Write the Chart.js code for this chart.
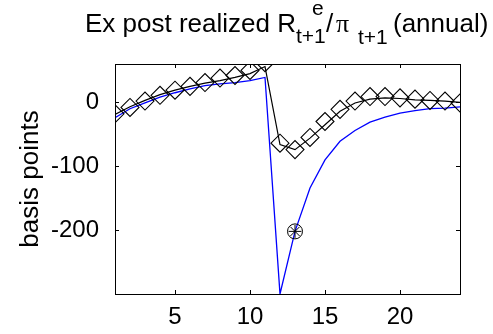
<!DOCTYPE html>
<html>
<head>
<meta charset="utf-8">
<script src="https://cdn.jsdelivr.net/npm/chart.js@4.4.0/dist/chart.umd.min.js"></script>
<style>
  html, body { margin: 0; padding: 0; background: #fff; }
</style>
</head>
<body>
<canvas id="myChart" width="493" height="334"></canvas>
<script>
// quarters after the shock
const periods = [1, 2, 3, 4, 5, 6, 7, 8, 9, 10, 11, 12, 13, 14, 15, 16, 17, 18, 19, 20, 21, 22, 23, 24];
// blue model path
const modelPath = [-24, -10, -1, 8, 15, 21, 26, 29, 31, 34, 39, -300, -202, -134, -90, -61, -44, -31, -23, -17, -13, -10, -9, -7];
// black smooth path
const smoothPath = [-19, -7, 3, 12, 19, 25, 30, 34, 39, 45, 56, -66, -74, -56, -35, -14, -1, 5, 7, 6, 4, 3, 2, 0];
// diamonds
const diamondPath = [-18, -8, 2, 11, 19, 25, 31, 38, 42, 50, 62, -64, -74, -55, -30, -11, 2, 9, 9, 7, 5, 3, 2, -1];
// single highlighted point
const markX = [13];
const markY = [-202];

const xTicks = [5, 10, 15, 20];
const yTicks = [-200, -100, 0];

const FONT = '"Liberation Sans", Arial, Helvetica, sans-serif';

const toXY = (xs, ys) => xs.map((x, i) => ({ x: x, y: ys[i] }));

// MATLAB-ish frame, inward ticks and the TeX title
const framePlugin = {
  id: "frame",
  afterDraw(chart) {
    const ctx = chart.ctx;
    const a = chart.chartArea;
    const xs = chart.scales.x;
    const ys = chart.scales.y;
    ctx.save();
    ctx.strokeStyle = "#000";
    ctx.lineWidth = 1;
    ctx.strokeRect(Math.round(a.left) + 0.5, Math.round(a.top) + 0.5,
      Math.round(a.right - a.left), Math.round(a.bottom - a.top));
    const tl = 4;
    ctx.beginPath();
    xTicks.forEach((v) => {
      const px = Math.round(xs.getPixelForValue(v)) + 0.5;
      ctx.moveTo(px, a.bottom); ctx.lineTo(px, a.bottom - tl);
      ctx.moveTo(px, a.top); ctx.lineTo(px, a.top + tl);
    });
    yTicks.forEach((v) => {
      const py = Math.round(ys.getPixelForValue(v)) + 0.5;
      ctx.moveTo(a.left, py); ctx.lineTo(a.left + tl, py);
      ctx.moveTo(a.right, py); ctx.lineTo(a.right - tl, py);
    });
    ctx.stroke();

    // title pieces
    ctx.fillStyle = "#000";
    ctx.textAlign = "left";
    ctx.textBaseline = "alphabetic";
    const big = "26px " + FONT;
    const small = "21px " + FONT;
    const pieces = [
      ["Ex post realized R", 85, 32, big],
      ["t+1", 296, 43, small],
      ["e", 312, 15, small],
      ["/", 326, 32, big],
      ["\u03c0", 336, 32, '26px "Liberation Serif", serif'],
      ["t+1", 358, 44, small],
      ["(annual)", 393, 32, big],
    ];
    pieces.forEach(([t, x, y, f]) => {
      ctx.font = f;
      ctx.fillText(t, x, y);
    });
    ctx.restore();
  },
};

const config = {
  type: "line",
  data: {
    datasets: [
      {
        data: toXY(periods, diamondPath),
        showLine: false,
        pointStyle: "rectRot",
        pointRadius: 9,
        pointBorderWidth: 1.1,
        pointBorderColor: "#000",
        pointBackgroundColor: "rgba(0,0,0,0)",
      },
      {
        data: toXY(markX, markY),
        showLine: false,
        pointStyle: "circle",
        pointRadius: 7.5,
        pointBorderWidth: 1,
        pointBorderColor: "#000",
        pointBackgroundColor: "rgba(0,0,0,0)",
      },
      {
        data: toXY(markX, markY),
        showLine: false,
        pointStyle: "star",
        pointRadius: 6.5,
        pointBorderWidth: 1,
        pointBorderColor: "#000",
      },
      {
        data: toXY(periods, smoothPath),
        borderColor: "#000",
        borderWidth: 1.2,
        pointRadius: 0,
        tension: 0,
      },
      {
        data: toXY(periods, modelPath),
        borderColor: "#0000ff",
        borderWidth: 1.3,
        pointRadius: 0,
        tension: 0,
      },
    ],
  },
  options: {
    responsive: false,
    animation: false,
    devicePixelRatio: 1,
    layout: { padding: { top: 64, right: 33, left: 0, bottom: 0 } },
    plugins: {
      legend: false,
      tooltip: { enabled: false },
      title: { display: false },
    },
    scales: {
      x: {
        type: "linear",
        min: 1,
        max: 24,
        grid: { display: false },
        border: { display: false },
        afterBuildTicks: (s) => { s.ticks = xTicks.map((v) => ({ value: v })); },
        afterFit: (s) => { s.height = 40; },
        ticks: {
          color: "#000",
          font: { family: FONT, size: 24 },
          padding: 1,
          maxRotation: 0,
          autoSkip: false,
        },
      },
      y: {
        min: -300,
        max: 60,
        grid: { display: false },
        border: { display: false },
        afterBuildTicks: (s) => { s.ticks = yTicks.map((v) => ({ value: v })); },
        afterFit: (s) => { s.width = 115; },
        ticks: {
          color: "#000",
          font: { family: FONT, size: 24 },
          padding: 8,
          autoSkip: false,
        },
        title: {
          display: true,
          text: "basis points",
          color: "#000",
          font: { family: FONT, size: 26 },
          padding: { top: 15, bottom: 0 },
        },
      },
    },
  },
  plugins: [framePlugin],
};

const c = new Chart(document.getElementById("myChart").getContext("2d"), config);
</script>
</body>
</html>
